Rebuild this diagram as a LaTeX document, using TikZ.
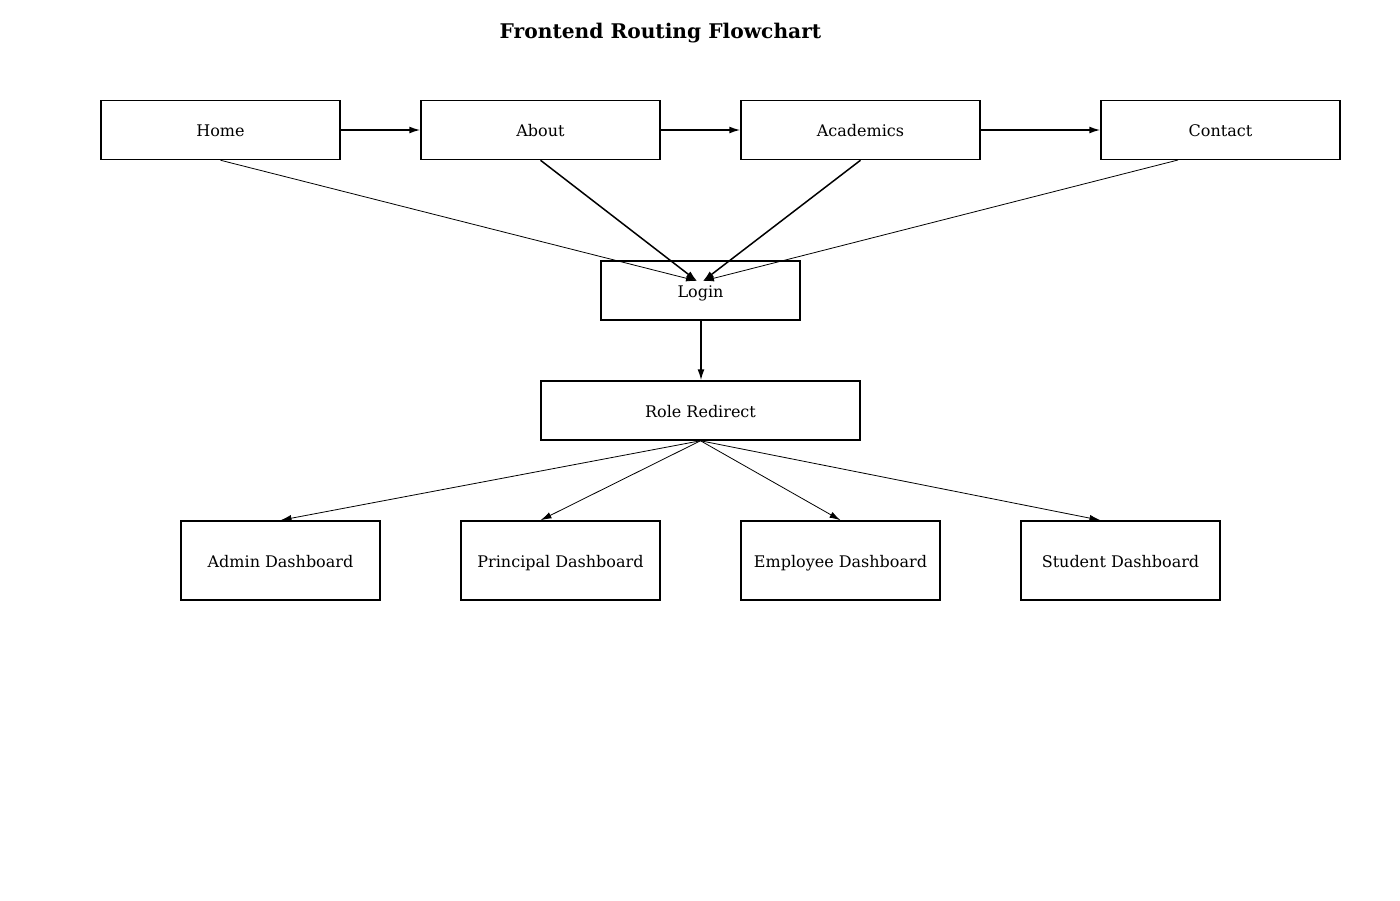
\documentclass[tikz,border=0pt]{standalone}
\usepackage{fontspec}
\setmainfont{DejaVu Serif}
\usepackage{tikz}
\tikzset{
  box_font/.style = {font=\fontsize{16}{19}\selectfont},
  title_font/.style = {font=\fontsize{20.2}{24}\selectfont\bfseries}
}
\tikzset{
  page/.style = {x=1pt, y=-1pt},
  box/.style = {box_font, draw, line width=1.5pt, inner sep=0, align=center,
    text height=13pt, text depth=0pt},
  box_wide/.style = {box, minimum width=239pt, minimum height=59pt},
  box_small/.style = {box, minimum width=199pt, minimum height=59pt},
  box_dash/.style = {box, minimum width=199pt, minimum height=79pt},
  box_role/.style = {box, minimum width=319pt, minimum height=59pt},
  link/.style = {-{Latex[length=11pt, width=7pt]}, line width=1.5pt},
  link_thin/.style = {-{Latex[length=11pt, width=6.5pt]}, line width=0.8pt}
}
\usetikzlibrary{arrows.meta, positioning}

\begin{document}
\begin{tikzpicture}[page]
        \useasboundingbox (0,0) rectangle (1400,900);

        % Title
        \node[title_font] at (660.5,33) (title) {Frontend Routing Flowchart};

        % Public pages
        \node[box_wide] at (220.5,130) (home) {Home};
        \node[box_wide] at (540.5,130) (about) {About};
        \node[box_wide] at (860.5,130) (academics) {Academics};
        \node[box_wide] at (1220.5,130) (contact) {Contact};

        % Authentication
        \node[box_small] at (700.5,290.5) (login) {Login};
        \node[box_role] at (700.5,410.5) (role) {Role Redirect};

        % Dashboards
        \node[box_dash] at (280.5,560.5) (admin) {Admin Dashboard};
        \node[box_dash] at (560.5,560.5) (principal) {Principal Dashboard};
        \node[box_dash] at (840.5,560.5) (employee) {Employee Dashboard};
        \node[box_dash] at (1120.5,560.5) (student) {Student Dashboard};

        % Arrow end points
        \coordinate (login_in_l) at (697,281);
        \coordinate (login_in_r) at (703,281);
        \coordinate (contact_out) at (1178,160);

        % Arrows and lines
        \draw[link] (home.east)--(about.west);
        \draw[link] (about.east)--(academics.west);
        \draw[link] (academics.east)--(contact.west);

        \draw[link_thin] (home.south)--(login_in_l);
        \draw[link] (about.south)--(login_in_l);
        \draw[link] (academics.south)--(login_in_r);
        \draw[link_thin] (contact_out)--(login_in_r);

        \draw[link] ([xshift=0.5pt]login.south)--([xshift=0.5pt]role.north);

        \draw[link_thin] (role.south)--(admin.north);
        \draw[link_thin] (role.south)--([xshift=-20pt]principal.north);
        \draw[link_thin] (role.south)--(employee.north);
        \draw[link_thin] (role.south)--([xshift=-20pt]student.north);
\end{tikzpicture}
\end{document}
